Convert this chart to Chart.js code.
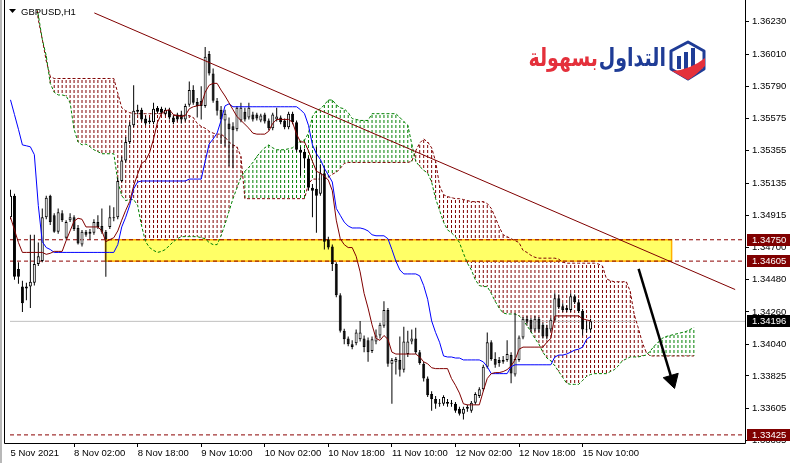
<!DOCTYPE html>
<html><head><meta charset="utf-8">
<script src="https://cdn.jsdelivr.net/npm/chart.js@4.4.1/dist/chart.umd.min.js"></script>
<style>html,body{margin:0;padding:0;background:#fff;overflow:hidden}canvas{display:block}</style>
</head><body>
<canvas id="c" width="795" height="463"></canvas>
<script>
// ---------------- DATA ----------------
const symbolTitle = 'GBPUSD,H1';
const logoWord1 = 'التداول';
const logoWord2 = 'بسهولة';
const timeLabels = ['5 Nov 2021','8 Nov 02:00','8 Nov 18:00','9 Nov 10:00','10 Nov 02:00','10 Nov 18:00','11 Nov 10:00','12 Nov 02:00','12 Nov 18:00','15 Nov 10:00'];
const timeLabelBar = [0,16,32,48,64,80,96,112,128,144];
const priceTicks = [1.36230,1.36010,1.35790,1.35575,1.35355,1.35135,1.34915,1.34700,1.34480,1.34260,1.34040,1.33825,1.33605,1.33385];

const open = [1.34903,1.35049,1.34552,1.34432,1.34419,1.34432,1.34458,1.34585,1.34605,1.34903,
 1.35049,1.34916,1.34804,1.34930,1.34764,1.34883,1.34903,1.34830,1.34717,1.34804,
 1.34790,1.34797,1.34870,1.34843,1.34804,1.34837,1.34903,1.34903,1.35149,1.35288,
 1.35414,1.35527,1.35619,1.35633,1.35573,1.35560,1.35547,1.35646,1.35639,1.35606,
 1.35633,1.35580,1.35600,1.35600,1.35567,1.35666,1.35766,1.35686,1.35693,1.35659,
 1.36012,1.35879,1.35693,1.35633,1.35560,1.35540,1.35520,1.35500,1.35560,1.35619,
 1.35580,1.35600,1.35600,1.35560,1.35600,1.35560,1.35507,1.35567,1.35580,1.35560,
 1.35514,1.35606,1.35547,1.35361,1.35348,1.35302,1.35103,1.35096,1.35063,1.35202,
 1.34751,1.34704,1.34585,1.34373,1.34133,1.34080,1.34041,1.34047,1.34074,1.34080,
 1.34067,1.33994,1.34060,1.34100,1.34166,1.34273,1.33908,1.33921,1.33934,1.33868,
 1.33974,1.34060,1.34080,1.33987,1.33908,1.33808,1.33702,1.33669,1.33643,1.33636,
 1.33649,1.33636,1.33636,1.33603,1.33569,1.33603,1.33589,1.33643,1.33689,1.33735,
 1.33888,1.34054,1.33941,1.33934,1.33921,1.33934,1.33967,1.33835,1.33934,1.34087,
 1.34213,1.34206,1.34140,1.34213,1.34173,1.34153,1.34140,1.34206,1.34352,1.34299,
 1.34273,1.34273,1.34366,1.34326,1.34266,1.34146,1.34140];
const high = [1.35089,1.35063,1.34598,1.34472,1.34458,1.34784,1.34784,1.34731,1.34963,1.35049,
 1.35056,1.34930,1.34963,1.34950,1.34883,1.34930,1.34916,1.34850,1.34817,1.34817,
 1.34823,1.34889,1.34916,1.34963,1.34817,1.34983,1.34970,1.35169,1.35315,1.35447,
 1.35547,1.35799,1.35666,1.35646,1.35593,1.35580,1.35680,1.35659,1.35653,1.35646,
 1.35646,1.35593,1.35613,1.35626,1.35673,1.35825,1.35799,1.35713,1.35792,1.36058,
 1.36032,1.35912,1.35713,1.35659,1.35633,1.35580,1.35547,1.35659,1.35680,1.35646,
 1.35680,1.35619,1.35613,1.35606,1.35613,1.35573,1.35613,1.35646,1.35593,1.35573,
 1.35619,1.35619,1.35560,1.35381,1.35368,1.35315,1.35129,1.35381,1.35262,1.35248,
 1.34771,1.34717,1.34598,1.34386,1.34146,1.34093,1.34067,1.34140,1.34199,1.34100,
 1.34087,1.34093,1.34140,1.34186,1.34332,1.34286,1.33947,1.33954,1.34093,1.34160,
 1.34133,1.34140,1.34153,1.34001,1.33921,1.33822,1.33722,1.33689,1.33669,1.33695,
 1.33669,1.33662,1.33649,1.33616,1.33616,1.33629,1.33656,1.33715,1.33748,1.33901,
 1.34120,1.34067,1.33987,1.33954,1.33961,1.34067,1.33987,1.34253,1.34100,1.34226,
 1.34233,1.34219,1.34233,1.34226,1.34186,1.34173,1.34219,1.34386,1.34379,1.34319,
 1.34306,1.34386,1.34379,1.34346,1.34279,1.34199,1.34213];
const low = [1.34889,1.34478,1.34452,1.34259,1.34340,1.34286,1.34439,1.34572,1.34598,1.34889,
 1.34850,1.34797,1.34790,1.34870,1.34751,1.34870,1.34810,1.34717,1.34704,1.34771,
 1.34751,1.34784,1.34823,1.34790,1.34498,1.34823,1.34876,1.34889,1.35142,1.35275,
 1.35400,1.35514,1.35600,1.35553,1.35527,1.35534,1.35534,1.35606,1.35600,1.35593,
 1.35567,1.35534,1.35553,1.35540,1.35553,1.35653,1.35666,1.35580,1.35567,1.35646,
 1.35866,1.35680,1.35593,1.35400,1.35381,1.35248,1.35235,1.35487,1.35547,1.35553,
 1.35567,1.35553,1.35560,1.35547,1.35540,1.35494,1.35494,1.35553,1.35534,1.35500,
 1.35500,1.35534,1.35348,1.35182,1.35235,1.35083,1.34903,1.34797,1.35049,1.34684,
 1.34684,1.34538,1.34359,1.34120,1.34041,1.34027,1.34007,1.34034,1.34060,1.33987,
 1.33921,1.33981,1.34041,1.34080,1.34153,1.33888,1.33636,1.33835,1.33822,1.33848,
 1.33954,1.34041,1.33974,1.33901,1.33788,1.33682,1.33589,1.33603,1.33616,1.33623,
 1.33616,1.33616,1.33576,1.33556,1.33530,1.33583,1.33576,1.33629,1.33676,1.33722,
 1.33875,1.33928,1.33881,1.33888,1.33908,1.33921,1.33775,1.33822,1.33921,1.34074,
 1.34173,1.34120,1.34127,1.34120,1.34080,1.34074,1.34127,1.34193,1.34279,1.34259,
 1.34259,1.34259,1.34313,1.34253,1.34100,1.34120,1.34120];
const close = [1.35049,1.34498,1.34498,1.34319,1.34432,1.34465,1.34585,1.34638,1.34903,1.35036,
 1.34870,1.34804,1.34937,1.34883,1.34870,1.34903,1.34823,1.34724,1.34804,1.34784,
 1.34804,1.34870,1.34837,1.34804,1.34751,1.34903,1.34896,1.35149,1.35288,1.35414,
 1.35527,1.35626,1.35633,1.35567,1.35540,1.35547,1.35639,1.35619,1.35613,1.35633,
 1.35580,1.35547,1.35567,1.35567,1.35659,1.35766,1.35680,1.35659,1.35659,1.35992,
 1.35879,1.35693,1.35626,1.35567,1.35606,1.35500,1.35494,1.35646,1.35646,1.35567,
 1.35646,1.35567,1.35573,1.35593,1.35553,1.35507,1.35600,1.35587,1.35547,1.35514,
 1.35606,1.35547,1.35361,1.35341,1.35302,1.35103,1.35083,1.35049,1.35202,1.34737,
 1.34697,1.34585,1.34373,1.34133,1.34074,1.34041,1.34021,1.34120,1.34120,1.34021,
 1.33987,1.34074,1.34100,1.34173,1.34273,1.33908,1.33934,1.33941,1.33868,1.34060,
 1.34060,1.34080,1.33987,1.33914,1.33808,1.33695,1.33669,1.33636,1.33636,1.33682,
 1.33636,1.33643,1.33589,1.33569,1.33603,1.33616,1.33643,1.33702,1.33735,1.33888,
 1.34054,1.33941,1.33901,1.33914,1.33934,1.33974,1.33842,1.33941,1.34087,1.34213,
 1.34193,1.34140,1.34213,1.34140,1.34093,1.34093,1.34206,1.34352,1.34292,1.34273,
 1.34286,1.34366,1.34326,1.34266,1.34140,1.34140,1.34196];

const tenkan = [1.34903,1.34817,1.34731,1.34664,1.34664,1.34664,1.34664,1.34664,1.34664,1.34651,
 1.34658,1.34671,1.34671,1.34671,1.34744,1.34810,1.34876,1.34896,1.34889,1.34837,
 1.34837,1.34837,1.34837,1.34810,1.34737,1.34751,1.34764,1.34810,1.34883,1.34950,
 1.35009,1.35116,1.35195,1.35268,1.35288,1.35341,1.35434,1.35547,1.35606,1.35626,
 1.35633,1.35600,1.35593,1.35587,1.35593,1.35639,1.35653,1.35659,1.35666,1.35752,
 1.35799,1.35812,1.35812,1.35766,1.35726,1.35680,1.35633,1.35587,1.35560,1.35534,
 1.35507,1.35474,1.35467,1.35467,1.35467,1.35487,1.35540,1.35567,1.35567,1.35567,
 1.35567,1.35547,1.35467,1.35414,1.35414,1.35354,1.35282,1.35215,1.35202,1.35182,
 1.35155,1.35083,1.34883,1.34757,1.34717,1.34697,1.34697,1.34638,1.34532,1.34386,
 1.34286,1.34173,1.34080,1.34067,1.34100,1.34074,1.33987,1.33974,1.33974,1.33974,
 1.33974,1.33974,1.33974,1.33954,1.33921,1.33908,1.33881,1.33875,1.33875,1.33875,
 1.33875,1.33808,1.33762,1.33709,1.33636,1.33629,1.33629,1.33629,1.33629,1.33722,
 1.33808,1.33841,1.33848,1.33848,1.33855,1.33868,1.33894,1.33934,1.34007,1.34021,
 1.34021,1.34021,1.34021,1.34021,1.34021,1.34054,1.34080,1.34233,1.34233,1.34233,
 1.34233,1.34233,1.34233,1.34233,1.34213,1.34206,1.34199];
const kijun = [1.35700,1.35600,1.35500,1.35394,1.35388,1.35381,1.35328,1.34983,1.34737,1.34697,
 1.34684,1.34664,1.34664,1.34664,1.34664,1.34664,1.34664,1.34664,1.34664,1.34664,
 1.34664,1.34664,1.34664,1.34664,1.34664,1.34664,1.34664,1.34717,1.34837,1.34903,
 1.34983,1.35096,1.35142,1.35149,1.35149,1.35149,1.35149,1.35149,1.35149,1.35149,
 1.35149,1.35149,1.35149,1.35149,1.35149,1.35162,1.35162,1.35162,1.35162,1.35282,
 1.35400,1.35434,1.35474,1.35560,1.35659,1.35673,1.35653,1.35653,1.35653,1.35653,
 1.35653,1.35653,1.35653,1.35653,1.35653,1.35653,1.35653,1.35653,1.35653,1.35653,
 1.35653,1.35653,1.35653,1.35633,1.35606,1.35527,1.35394,1.35334,1.35295,1.35235,
 1.35189,1.35142,1.34963,1.34916,1.34870,1.34843,1.34830,1.34830,1.34830,1.34823,
 1.34810,1.34784,1.34777,1.34777,1.34777,1.34757,1.34684,1.34605,1.34545,1.34518,
 1.34518,1.34518,1.34518,1.34505,1.34439,1.34346,1.34199,1.34120,1.34054,1.33961,
 1.33954,1.33954,1.33947,1.33947,1.33934,1.33934,1.33934,1.33934,1.33934,1.33921,
 1.33888,1.33841,1.33841,1.33841,1.33841,1.33841,1.33888,1.33901,1.33901,1.33901,
 1.33901,1.33901,1.33901,1.33901,1.33901,1.33901,1.33901,1.33954,1.33967,1.33967,
 1.33974,1.33987,1.34001,1.34007,1.34021,1.34074,1.34093];
const spanA = [null,null,null,null,null,null,1.36390,1.36277,1.36111,1.35999,
 1.35812,1.35752,1.35733,1.35733,1.35726,1.35680,1.35500,1.35414,1.35394,1.35400,
 1.35381,1.35361,1.35348,1.35334,1.35334,1.35334,1.35334,1.35149,1.35049,1.35016,
 1.35023,1.35023,1.34983,1.34843,1.34737,1.34697,1.34678,1.34664,1.34671,1.34684,
 1.34711,1.34737,1.34757,1.34771,1.34771,1.34771,1.34771,1.34771,1.34764,1.34757,
 1.34731,1.34717,1.34717,1.34777,1.34856,1.34943,1.35029,1.35102,1.35175,1.35215,
 1.35242,1.35275,1.35315,1.35348,1.35374,1.35394,1.35374,1.35361,1.35361,1.35361,
 1.35368,1.35374,1.35400,1.35420,1.35427,1.35474,1.35587,1.35626,1.35639,1.35666,
 1.35699,1.35699,1.35666,1.35646,1.35639,1.35613,1.35573,1.35567,1.35560,1.35560,
 1.35560,1.35606,1.35606,1.35606,1.35606,1.35606,1.35606,1.35606,1.35580,1.35553,
 1.35527,1.35400,1.35282,1.35248,1.35222,1.35202,1.35142,1.35029,1.34950,1.34870,
 1.34817,1.34797,1.34771,1.34731,1.34658,1.34591,1.34545,1.34478,1.34439,1.34432,
 1.34432,1.34386,1.34332,1.34286,1.34253,1.34246,1.34246,1.34246,1.34233,1.34206,
 1.34166,1.34127,1.34080,1.34041,1.33987,1.33947,1.33928,1.33894,1.33855,1.33815,
 1.33775,1.33768,1.33768,1.33768,1.33795,1.33822,1.33835,1.33841,1.33841,1.33841,
 1.33841,1.33855,1.33868,1.33894,1.33928,1.33941,1.33954,1.33954,1.33954,1.33961,
 1.33967,1.33994,1.34027,1.34054,1.34080,1.34093,1.34100,1.34107,1.34113,1.34120,
 1.34127,1.34140,1.34153];
const spanB = [null,null,null,null,null,null,1.36509,1.36244,1.36111,1.35965,
 1.35859,1.35845,1.35845,1.35845,1.35845,1.35845,1.35845,1.35845,1.35845,1.35845,
 1.35845,1.35845,1.35845,1.35845,1.35845,1.35845,1.35845,1.35746,1.35646,1.35626,
 1.35613,1.35606,1.35606,1.35606,1.35606,1.35606,1.35606,1.35606,1.35606,1.35606,
 1.35606,1.35593,1.35593,1.35593,1.35593,1.35593,1.35580,1.35540,1.35520,1.35507,
 1.35487,1.35474,1.35467,1.35467,1.35447,1.35414,1.35394,1.35381,1.35315,1.35029,
 1.35029,1.35029,1.35029,1.35029,1.35029,1.35029,1.35029,1.35029,1.35029,1.35029,
 1.35029,1.35029,1.35029,1.35029,1.35029,1.35129,1.35162,1.35162,1.35162,1.35162,
 1.35175,1.35195,1.35208,1.35235,1.35268,1.35275,1.35275,1.35275,1.35275,1.35275,
 1.35275,1.35275,1.35275,1.35275,1.35275,1.35275,1.35275,1.35275,1.35275,1.35275,
 1.35275,1.35282,1.35354,1.35407,1.35434,1.35414,1.35374,1.35282,1.35116,1.35056,
 1.35043,1.35036,1.35029,1.35029,1.35023,1.35016,1.35009,1.35009,1.35009,1.35009,
 1.34996,1.34963,1.34903,1.34837,1.34784,1.34771,1.34757,1.34744,1.34731,1.34678,
 1.34664,1.34644,1.34631,1.34625,1.34625,1.34625,1.34625,1.34625,1.34618,1.34598,
 1.34591,1.34591,1.34591,1.34591,1.34591,1.34591,1.34591,1.34591,1.34585,1.34572,
 1.34485,1.34472,1.34465,1.34465,1.34465,1.34465,1.34399,1.34240,1.34153,1.34054,
 1.33987,1.33961,1.33961,1.33961,1.33961,1.33961,1.33961,1.33961,1.33961,1.33961,
 1.33961,1.33961,1.33961];

const trendBar = [21.1, 182.4];
const trendPrice = [1.36290, 1.34412];
const levelPrices = [1.34750, 1.34605, 1.33425];
const bidPrice = 1.34196;
const zoneBar = [23.9, 166.4];
const zonePrice = [1.34605, 1.34750];
const arrowBar = [158.1, 166.5];
const arrowPrice = [1.34552, 1.33799];
const xMin = -0.125, xMax = 184.875, yMin = 1.33370, yMax = 1.36310;

// ---------------- CHART ----------------
const canvas = document.getElementById('c');
const mainCtx = canvas.getContext('2d');
function hatch(color){
  const c = document.createElement('canvas'); c.width = 1; c.height = 5;
  const g = c.getContext('2d'); g.fillStyle = color; g.fillRect(0,0,1,3);
  return mainCtx.createPattern(c,'repeat');
}
const greenHatch = hatch('#008000');
const maroonHatch = hatch('#800000');

const hatchData = [];
spanA.forEach((a,i)=>{ const b = spanB[i]; if(a!=null && b!=null) hatchData.push({x:i, y:[Math.min(a,b),Math.max(a,b)], up:a>b}); });
const wickData = close.map((c,i)=>({x:i, y:[low[i],high[i]]}));
const bodyData = close.map((c,i)=>({x:i, y:[open[i],c], bull:c>=open[i]}));
const toPts = arr => arr.map((v,i)=>({x:i,y:v}));
const hline = (p)=>[{x:xMin,y:p},{x:xMax,y:p}];

const datasets = [
  {id:'hatch', type:'bar', data:hatchData, barThickness:1, grouped:false, inflateAmount:0, order:50,
   backgroundColor: c => (c.raw && c.raw.up) ? greenHatch : maroonHatch, borderWidth:0},
  ...levelPrices.map(p=>({type:'line', data:hline(p), borderColor:'#8b0000', borderWidth:1, borderDash:[4,3], pointRadius:0, order:40})),
  {type:'line', data:hline(bidPrice), borderColor:'#c0c0c0', borderWidth:1, pointRadius:0, order:39},
  {type:'line', data:toPts(spanB), borderColor:'#800000', borderWidth:1, borderDash:[3,2], pointRadius:0, order:38},
  {type:'line', data:toPts(spanA), borderColor:'#008000', borderWidth:1, borderDash:[3,2], pointRadius:0, order:37},
  {type:'bar', data:wickData, barThickness:1, grouped:false, inflateAmount:0, backgroundColor:'#000', borderWidth:0, order:30},
  {type:'bar', data:bodyData, barThickness:3, grouped:false, inflateAmount:0, order:29, borderSkipped:false,
   backgroundColor: c => (c.raw && c.raw.bull) ? '#ffffff' : '#000000', borderColor:'#000', borderWidth:1},
  {type:'line', data:toPts(kijun), borderColor:'#0000ff', borderWidth:1, pointRadius:0, order:20},
  {type:'line', data:toPts(tenkan), borderColor:'#800000', borderWidth:1, pointRadius:0, order:19},
  {type:'line', data:trendBar.map((b,i)=>({x:b,y:trendPrice[i]})), borderColor:'#800000', borderWidth:1, pointRadius:0, order:10},
  {type:'line', data:arrowBar.map((b,i)=>({x:b,y:arrowPrice[i]})), borderColor:'#000', borderWidth:2.5,
   pointRadius:[0,9], pointStyle:'triangle', pointRotation:163.6, pointBackgroundColor:'#000', pointBorderColor:'#000', pointBorderWidth:1, order:5}
];

const FONT = 'Liberation Sans';
const mt4 = {
  id:'mt4',
  beforeDraw(chart){
    const ctx = chart.ctx; ctx.save(); ctx.fillStyle='#fff'; ctx.fillRect(0,0,chart.width,chart.height);
    ctx.fillStyle='#b8b8b8'; ctx.fillRect(0,0,2,chart.height); ctx.restore();
  },
  afterDatasetDraw(chart,args){
    if(chart.data.datasets[args.index].id !== 'hatch') return;
    const {ctx, chartArea:a, scales:{x,y}} = chart;
    const x0 = x.getPixelForValue(zoneBar[0]), x1 = x.getPixelForValue(zoneBar[1]);
    const y0 = y.getPixelForValue(zonePrice[1]), y1 = y.getPixelForValue(zonePrice[0]);
    ctx.save(); ctx.beginPath(); ctx.rect(a.left,a.top,a.right-a.left,a.bottom-a.top); ctx.clip();
    ctx.fillStyle='#ffff66'; ctx.fillRect(x0,y0,x1-x0,y1-y0);
    ctx.strokeStyle='#ffb000'; ctx.lineWidth=1.5; ctx.strokeRect(x0,y0,x1-x0,y1-y0);
    ctx.restore();
  },
  afterDraw(chart){
    const {ctx, chartArea:a, scales:{y}} = chart;
    ctx.save();
    // frame
    ctx.strokeStyle='#000'; ctx.lineWidth=1;
    ctx.beginPath(); ctx.moveTo(4.5,0); ctx.lineTo(4.5,a.bottom+0.5); ctx.lineTo(a.right+0.5,a.bottom+0.5); ctx.lineTo(a.right+0.5,0); ctx.stroke();
    // title
    ctx.fillStyle='#000';
    ctx.beginPath(); ctx.moveTo(9,9); ctx.lineTo(16,9); ctx.lineTo(12.5,13); ctx.closePath(); ctx.fill();
    ctx.font = '9.5px "'+FONT+'"'; ctx.textBaseline='alphabetic'; ctx.textAlign='left';
    ctx.fillText(symbolTitle, 21, 15);
    // price tags
    ctx.font = '9.5px "'+FONT+'"'; ctx.textBaseline='middle';
    const tag = (p,bg)=>{ const py = Math.round(y.getPixelForValue(p)); ctx.fillStyle=bg; ctx.fillRect(747,py-6,43,12); ctx.fillStyle='#fff'; ctx.fillText(p.toFixed(5),752,py+0.5); };
    levelPrices.forEach(p=>tag(p,'#800000'));
    tag(bidPrice,'#000000');
    // logo (text kept as real text, stretched vertically like the original artwork)
    ctx.save();
    ctx.translate(0, 66); ctx.scale(1, 1.3);
    ctx.direction='rtl'; ctx.textAlign='right'; ctx.textBaseline='alphabetic';
    ctx.font='bold 19px "DejaVu Sans"';
    ctx.fillStyle='#1f3c96'; ctx.fillText(logoWord1, 666, 0);
    ctx.fillStyle='#e4303b'; ctx.fillText(logoWord2, 598, 0);
    ctx.restore();
    // icon
    ctx.lineJoin='round';
    ctx.strokeStyle='#1f3c96'; ctx.lineWidth=3;
    ctx.beginPath(); ctx.moveTo(688,42); ctx.lineTo(704,51); ctx.lineTo(704,69); ctx.lineTo(688,79); ctx.lineTo(671,69); ctx.lineTo(671,51); ctx.closePath(); ctx.stroke();
    ctx.fillStyle='#1f3c96';
    ctx.fillRect(677,56,4,13); ctx.fillRect(684,52,4,17); ctx.fillRect(691,48,4,21);
    ctx.fillStyle='#e4303b';
    ctx.beginPath(); ctx.moveTo(672,71); ctx.quadraticCurveTo(690,70,705,58); ctx.lineTo(705,66); ctx.quadraticCurveTo(695,76,688,80); ctx.closePath(); ctx.fill();
    ctx.restore();
  }
};

new Chart(canvas, {
  type:'bar',
  data:{datasets},
  options:{
    responsive:false, animation:false, devicePixelRatio:1, events:[],
    layout:{padding:{left:5,right:0,top:0,bottom:0}},
    plugins:{legend:{display:false}, tooltip:{enabled:false}},
    scales:{
      x:{type:'linear', min:xMin, max:xMax, offset:false, position:'bottom',
         border:{display:false},
         grid:{drawOnChartArea:false, drawTicks:true, tickLength:4, offset:false,
               color: c => c.index===0 ? 'rgba(0,0,0,0)' : '#000'},
         afterBuildTicks: s => { s.ticks = timeLabelBar.map(v=>({value:v})); },
         afterFit: s => { s.height = 20; s.paddingLeft = 0; s.paddingRight = 0; },
         ticks:{autoSkip:false, maxRotation:0, minRotation:0, align:'start', padding:1, color:'#000',
                font:{family:FONT, size:9.5},
                callback: v => { const i = timeLabelBar.indexOf(v); return i>=0 ? timeLabels[i] : ''; }}},
      y:{type:'linear', position:'right', min:yMin, max:yMax,
         border:{display:false},
         grid:{drawOnChartArea:false, drawTicks:true, tickLength:4, color:'#000'},
         afterBuildTicks: s => { s.ticks = priceTicks.map(v=>({value:v})); },
         afterFit: s => { s.width = 50; s.paddingTop = 0; s.paddingBottom = 0; },
         ticks:{padding:3, color:'#000', font:{family:FONT, size:9.5}, callback: v => Number(v).toFixed(5)}}
    }
  },
  plugins:[mt4]
});
</script>
</body></html>
